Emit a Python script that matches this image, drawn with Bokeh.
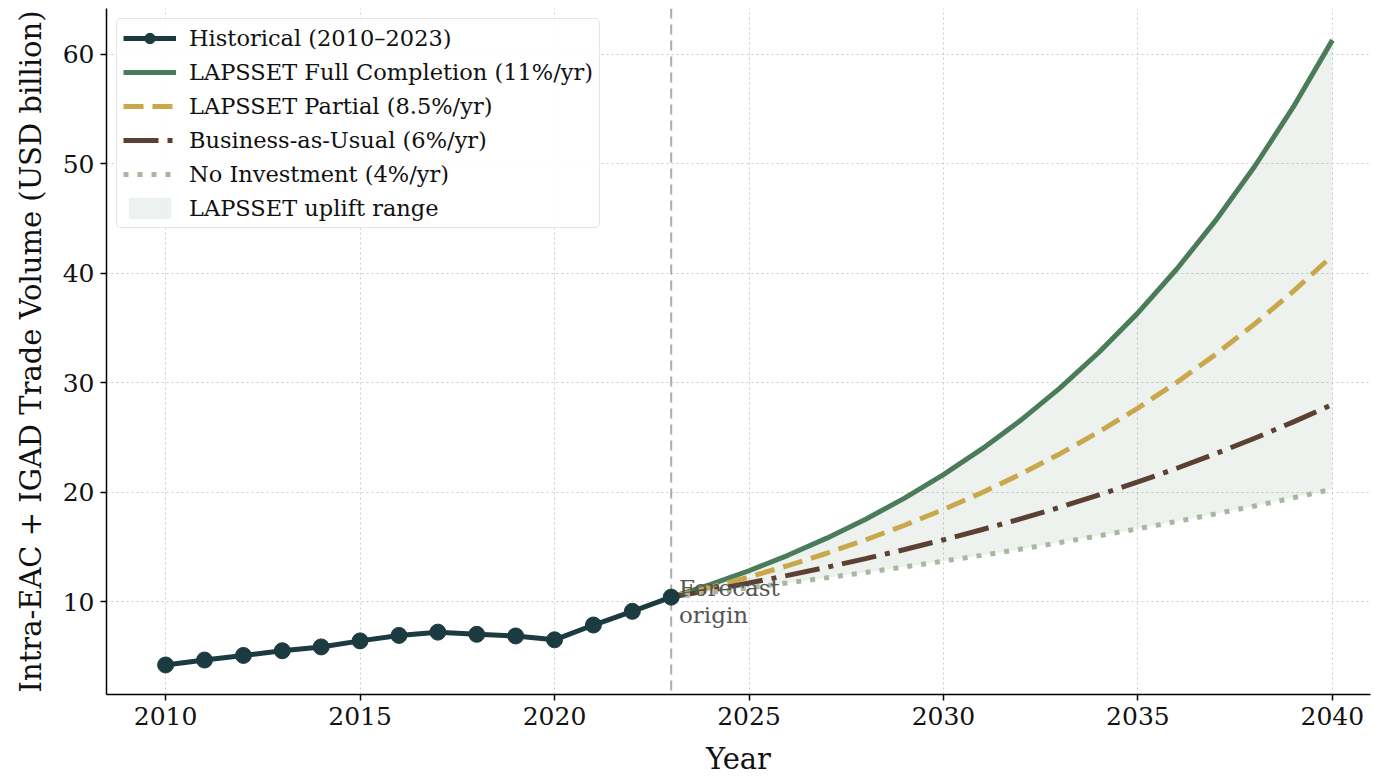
from bokeh.plotting import figure
from bokeh.models import (Range1d, Span, Legend, LegendItem, Label, FixedTicker)
from bokeh.embed import file_html
from bokeh.resources import INLINE

hist_years = [2010, 2011, 2012, 2013, 2014, 2015, 2016, 2017, 2018, 2019, 2020, 2021, 2022, 2023]
hist_vals = [4.2, 4.65, 5.07, 5.5, 5.85, 6.4, 6.9, 7.2, 7.0, 6.85, 6.5, 7.85, 9.1, 10.4]

proj_years = list(range(2023, 2041))
full_vals = [10.4, 11.54, 12.81, 14.22, 15.79, 17.52, 19.45, 21.59, 23.97, 26.60,
             29.53, 32.78, 36.38, 40.39, 44.83, 49.76, 55.23, 61.31]
partial_vals = [10.4, 11.28, 12.24, 13.28, 14.41, 15.64, 16.97, 18.41, 19.97, 21.67,
                23.51, 25.51, 27.68, 30.03, 32.59, 35.36, 38.36, 41.62]
bau_vals = [10.4, 11.02, 11.69, 12.39, 13.13, 13.92, 14.75, 15.64, 16.58, 17.57,
            18.62, 19.74, 20.93, 22.18, 23.51, 24.92, 26.42, 28.00]
noinv_vals = [10.4, 10.82, 11.25, 11.70, 12.17, 12.65, 13.16, 13.69, 14.23, 14.80,
              15.39, 16.01, 16.65, 17.32, 18.01, 18.73, 19.48, 20.26]

labels = ["Historical (2010\u20132023)", "LAPSSET Full Completion (11%/yr)",
          "LAPSSET Partial (8.5%/yr)", "Business-as-Usual (6%/yr)",
          "No Investment (4%/yr)", "LAPSSET uplift range"]

FONT = "DejaVu Serif"

p = figure(width=1372, height=778, output_backend="svg", toolbar_location=None,
           x_range=Range1d(2008.48, 2040.98), y_range=Range1d(1.5, 64.2),
           min_border_left=106, min_border_right=2, min_border_top=8, min_border_bottom=83)
p.outline_line_color = None
p.background_fill_color = "white"

band = p.varea(x=proj_years, y1=noinv_vals, y2=full_vals, fill_color="#4a7c59", fill_alpha=0.1)

p.add_layout(Span(location=2023, dimension="height", line_color="#aaaaaa",
                  line_dash="10 6", line_width=2, level="underlay"))

r_full = p.line(proj_years, full_vals, line_color="#4a7c59", line_width=5)
r_part = p.line(proj_years, partial_vals, line_color="#c9a84c", line_width=5, line_dash="20 9")
r_bau = p.line(proj_years, bau_vals, line_color="#5c4033", line_width=5, line_dash="35 9 5 9")
r_noinv = p.line(proj_years, noinv_vals, line_color="#a8b8a0", line_width=5, line_dash="5 9")

r_hl = p.line(hist_years, hist_vals, line_color="#1b3b40", line_width=5)
r_hs = p.scatter(hist_years, hist_vals, size=16, fill_color="#1b3b40", line_color="#1b3b40")

p.add_layout(Label(x=2023.2, y=10.0, text="Forecast\norigin", text_font=FONT,
                   text_font_size="23px", text_color="#555555", text_baseline="middle",
                   text_align="left", text_line_height=1.05))

legend = Legend(items=[
    LegendItem(label=labels[0], renderers=[r_hl, r_hs]),
    LegendItem(label=labels[1], renderers=[r_full]),
    LegendItem(label=labels[2], renderers=[r_part]),
    LegendItem(label=labels[3], renderers=[r_bau]),
    LegendItem(label=labels[4], renderers=[r_noinv]),
    LegendItem(label=labels[5], renderers=[band]),
], location="top_left")
legend.label_text_font = FONT
legend.label_text_font_size = "22.5px"
legend.label_text_color = "#111111"
legend.glyph_width = 53
legend.glyph_height = 26
legend.label_height = 26
legend.label_standoff = 13
legend.spacing = 8
legend.padding = 6
legend.margin = 10
legend.border_line_color = "#cccccc"
legend.border_line_width = 1.5
legend.border_radius = 5
legend.background_fill_alpha = 0.9
p.add_layout(legend)

p.xaxis.ticker = FixedTicker(ticks=[2010, 2015, 2020, 2025, 2030, 2035, 2040])
p.yaxis.ticker = FixedTicker(ticks=[10, 20, 30, 40, 50, 60])
p.xaxis.axis_label = "Year"
p.yaxis.axis_label = "Intra-EAC + IGAD Trade Volume (USD billion)"
for ax in (p.xaxis, p.yaxis):
    ax.axis_label_text_font = FONT
    ax.axis_label_text_font_size = "29px"
    ax.axis_label_text_font_style = "normal"
    ax.axis_label_text_color = "#111111"
    ax.major_label_text_font = FONT
    ax.major_label_text_font_size = "25px"
    ax.major_label_text_color = "#111111"
    ax.axis_line_color = "black"
    ax.axis_line_width = 1.5
    ax.major_tick_line_color = "black"
    ax.major_tick_line_width = 1.5
    ax.major_tick_out = 6
    ax.major_tick_in = 0
    ax.minor_tick_line_color = None
p.xaxis.major_label_standoff = 6
p.yaxis.major_label_standoff = 6
p.xaxis.axis_label_standoff = 14
p.yaxis.axis_label_standoff = 12

p.xgrid.grid_line_color = "#cccccc"
p.ygrid.grid_line_color = "#cccccc"
p.xgrid.grid_line_dash = "2 3"
p.ygrid.grid_line_dash = "2 3"
p.xgrid.grid_line_width = 1
p.ygrid.grid_line_width = 1

open("out.html", "w").write(file_html(p, INLINE))
